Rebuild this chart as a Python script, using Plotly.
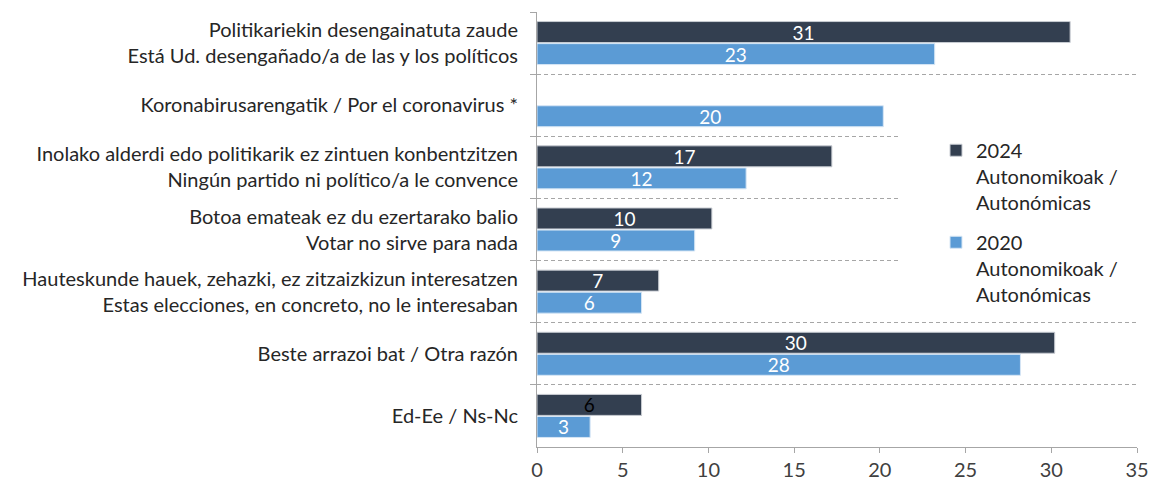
import plotly.graph_objects as go

categories = [
    "Politikariekin desengainatuta zaude<br>Está Ud. desengañado/a de las y los políticos",
    "Koronabirusarengatik / Por el coronavirus *",
    "Inolako alderdi edo politikarik ez zintuen konbentzitzen<br>Ningún partido ni político/a le convence",
    "Botoa emateak ez du ezertarako balio<br>Votar no sirve para nada",
    "Hauteskunde hauek, zehazki, ez zitzaizkizun interesatzen<br>Estas elecciones, en concreto, no le interesaban",
    "Beste arrazoi bat / Otra razón",
    "Ed-Ee / Ns-Nc",
]
values_2024 = [31.1, None, 17.2, 10.2, 7.1, 30.2, 6.1]
values_2020 = [23.2, 20.2, 12.2, 9.2, 6.1, 28.2, 3.1]
labels_2024 = ["31", "", "17", "10", "7", "30", "6"]
labels_2020 = ["23", "20", "12", "9", "6", "28", "3"]
name_2024 = "2024<br>Autonomikoak /<br>Autonómicas"
name_2020 = "2020<br>Autonomikoak /<br>Autonómicas"
x_ticks = [0, 5, 10, 15, 20, 25, 30, 35]

FONT = "Lato"
FS = 20
fig = go.Figure()
fig.add_trace(go.Bar(
    y=categories, x=values_2024, orientation="h", name=name_2024,
    legendgroup="a",
    marker=dict(color="#333F50", line=dict(color="#C8CCD2", width=1)),
    text=labels_2024, textposition="inside", insidetextanchor="middle",
    textangle=0, constraintext="none",
    textfont=dict(family=FONT, size=19,
                  color=["white"] * 6 + ["black"]),
    hoverinfo="skip",
))
fig.add_trace(go.Bar(
    y=categories, x=values_2020, orientation="h", name=name_2020,
    legendgroup="b",
    marker=dict(color="#5B9BD5", line=dict(color="#D6E6F5", width=1)),
    text=labels_2020, textposition="inside", insidetextanchor="middle",
    textangle=0, constraintext="none",
    textfont=dict(family=FONT, size=19, color="white"),
    hoverinfo="skip",
))

# white backdrop behind legend (legend box in reference hides the dashed lines)
fig.add_shape(type="rect", xref="paper", yref="paper",
              x0=0.605, x1=1.0, y0=(447 - 310) / 435, y1=(447 - 134) / 435,
              fillcolor="white", line=dict(width=0), layer="above")

fig.update_layout(
    width=1151, height=485,
    margin=dict(l=537, r=14, t=12, b=38),
    paper_bgcolor="white", plot_bgcolor="white",
    barmode="group", bargap=0.29, bargroupgap=0.05,
    font=dict(family=FONT, size=FS, color="#262626"),
    showlegend=True,
    legend=dict(
        x=0.665, xanchor="left", y=0.727, yanchor="top",
        bgcolor="white", traceorder="grouped", tracegroupgap=11,
        valign="top", font=dict(family=FONT, size=FS, color="#262626"),
    ),
)
fig.update_xaxes(
    range=[0, 35], tickvals=x_ticks, ticktext=[str(v) for v in x_ticks],
    showline=True, linecolor="#A6A6A6", linewidth=1,
    ticks="outside", ticklen=5, tickcolor="#A6A6A6",
    showgrid=False, zeroline=False, automargin=False,
    tickfont=dict(family=FONT, size=FS, color="#404040"),
)
fig.update_yaxes(
    autorange="reversed", type="category",
    showline=True, linecolor="#A6A6A6", linewidth=1,
    ticks="outside", ticklen=6, tickcolor="#A6A6A6", tickson="boundaries",
    ticklabelstandoff=14,
    showgrid=True, gridcolor="#A6A6A6", gridwidth=1, griddash="4px,3px",
    zeroline=False, automargin=False,
    tickfont=dict(family=FONT, size=FS, color="#262626"),
)

fig.write_html("out.html", config={"displayModeBar": False},
               post_script="document.body.style.margin='0';")
